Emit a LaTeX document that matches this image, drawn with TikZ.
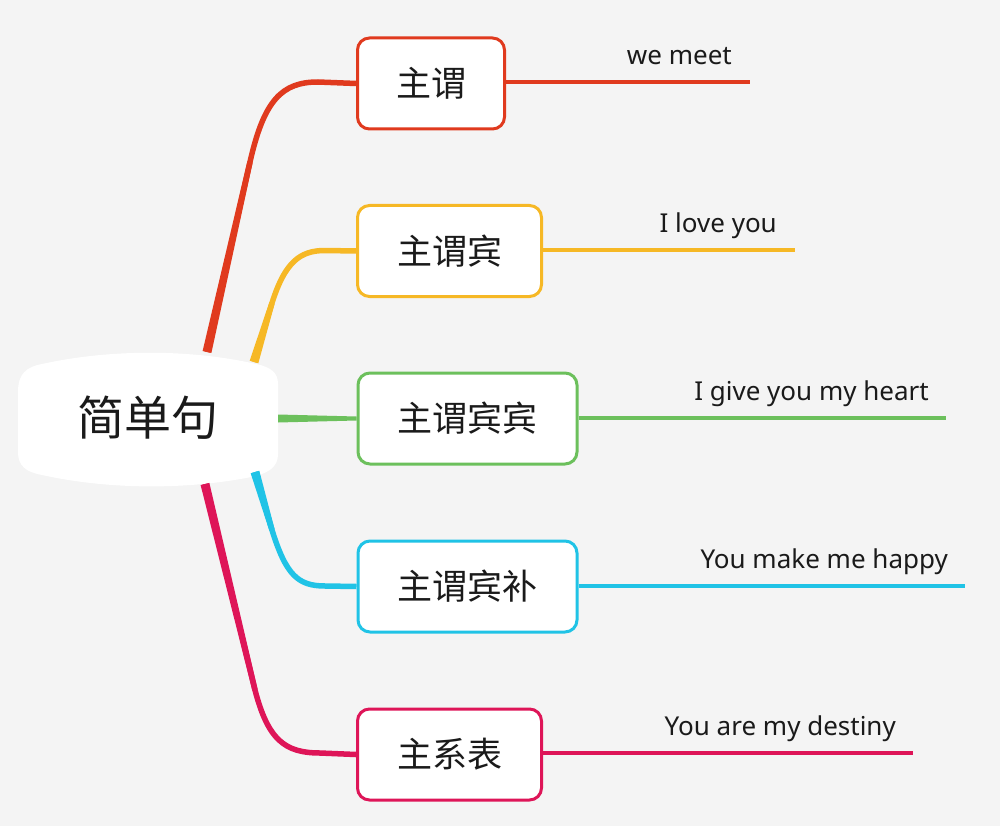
\documentclass[tikz,border=0pt]{standalone}
\usepackage{fontspec}
\setmainfont{Noto Sans}
\newfontfamily\cjk{Noto Sans CJK SC}
\usetikzlibrary{calc}
\definecolor{bg}{HTML}{F4F4F4}
\definecolor{cred}{HTML}{E03A1E}
\definecolor{cyel}{HTML}{F6B825}
\definecolor{cgrn}{HTML}{6CC05C}
\definecolor{ccya}{HTML}{20C3E6}
\definecolor{cpnk}{HTML}{DE1558}
\definecolor{txt}{HTML}{1A1A1A}
\newcommand\tapr[5]{\fill[#1] ($(#2)!#3!90:(#4)$) -- ($(#4)!#5!-90:(#2)$) -- ($(#4)!#5!90:(#2)$) -- ($(#2)!#3!-90:(#4)$) -- cycle;}
\tikzset{
  box/.style={draw=#1, line width=3pt, rounded corners=12pt, fill=white,
    minimum height=91pt, inner sep=0pt, font=\cjk\fontsize{35pt}{40pt}\selectfont, text=txt},
  conn/.style={draw=#1, line width=5.5pt, line cap=butt, line join=round},
  leaf/.style={draw=#1, line width=4pt},
  lbl/.style={anchor=base east, inner sep=0pt, font=\fontsize{26pt}{30pt}\selectfont, text=txt},
}
\begin{document}
\begin{tikzpicture}[x=1pt,y=-1pt]
\fill[bg] (0,0) rectangle (1000,826);
\useasboundingbox (0,0) rectangle (1000,826);
% central shape
\fill[white] (18,392) -- (18,452) .. controls (18,466) and (26,472) .. (42,475)
  .. controls (110,490) and (190,490) .. (256,476) .. controls (270,472) and (278,466) .. (278,454)
  -- (278,384) .. controls (278,372) and (270,367) .. (256,364)
  .. controls (190,349) and (110,349) .. (42,364) .. controls (26,367) and (18,374) .. (18,392) -- cycle;
\node (c) [font=\cjk\fontsize{47pt}{52pt}\selectfont, text=txt, inner sep=0pt] at (148,418) {简单句};
% boxes
\node (b1) [box=cred, minimum width=147pt] at (431,83.5) {主谓};
\node (b2) [box=cyel, minimum width=184pt] at (449.5,251) {主谓宾};
\node (b3) [box=cgrn, minimum width=219pt] at (467.5,418.5) {主谓宾宾};
\node (b4) [box=ccya, minimum width=219pt] at (467.5,586.5) {主谓宾补};
\node (b5) [box=cpnk, minimum width=184pt] at (449.5,754.5) {主系表};
% connector anchors
\coordinate (s1) at (207,352);
\coordinate (k1) at (250,162);
\coordinate (s2) at (254,362);
\coordinate (k2) at (272,303);
\coordinate (s3) at (278,418.5);
\coordinate (s4) at (255,472);
\coordinate (k4) at (272,530);
\coordinate (s5) at (205,484);
\coordinate (k5) at (255,690);
% connectors
\draw[conn=cred] (s1) -- (k1) .. controls (264,100) and (282,82) .. (318,82) -- (b1.west);
\tapr{cred}{s1}{4.5pt}{k1}{2.75pt}
\draw[conn=cyel] (s2) -- (k2) .. controls (285,262) and (300,250.5) .. (325,250.5) -- (b2.west);
\tapr{cyel}{s2}{4.5pt}{k2}{2.75pt}
\tapr{cgrn}{s3}{4pt}{b3.west}{2pt}
\draw[conn=ccya] (s4) -- (k4) .. controls (286,575) and (298,586) .. (325,586) -- (b4.west);
\tapr{ccya}{s4}{4.5pt}{k4}{2.75pt}
\draw[conn=cpnk] (s5) -- (k5) .. controls (268,740) and (285,753) .. (320,753) -- (b5.west);
\tapr{cpnk}{s5}{4.5pt}{k5}{2.75pt}
% leaf lines
\coordinate (e1) at (750,82);
\coordinate (e2) at (795,250);
\coordinate (e3) at (946,418);
\coordinate (e4) at (965,586);
\coordinate (e5) at (913,753);
\draw[leaf=cred] (b1.east |- e1) -- (e1);
\draw[leaf=cyel] (b2.east |- e2) -- (e2);
\draw[leaf=cgrn] (b3.east |- e3) -- (e3);
\draw[leaf=ccya] (b4.east |- e4) -- (e4);
\draw[leaf=cpnk] (b5.east |- e5) -- (e5);
% labels
\node (l1) [lbl] at ($(e1)+(-18,-17)$) {we meet};
\node (l2) [lbl] at ($(e2)+(-18,-17)$) {I love you};
\node (l3) [lbl] at ($(e3)+(-17,-18)$) {I give you my heart};
\node (l4) [lbl] at ($(e4)+(-17,-18)$) {You make me happy};
\node (l5) [lbl] at ($(e5)+(-17,-18)$) {You are my destiny};
\end{tikzpicture}
\end{document}
